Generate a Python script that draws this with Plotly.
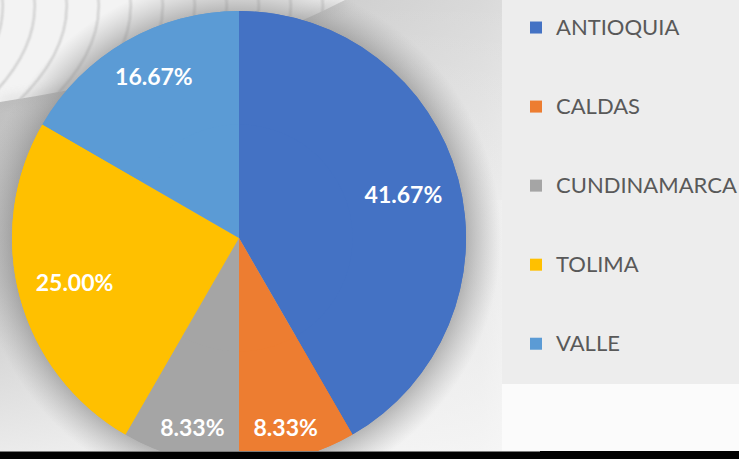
import base64
import plotly.graph_objects as go

# ---- data ----
categories = ["ANTIOQUIA", "CALDAS", "CUNDINAMARCA", "TOLIMA", "VALLE"]
counts = [5, 1, 1, 3, 2]
colors = ["#4472C4", "#ED7D31", "#A5A5A5", "#FFC000", "#5B9BD5"]

# figure a bit taller than the 459px window: the pie is cut by the bottom edge
W, H = 739, 470

# legend labels padded with blank lines to get the wide Excel-like spacing
legend_labels = ["&nbsp;<br><span style='font-size:22px'>%s</span><br>&nbsp;" % c for c in categories]
# label templates (blank lines nudge the small/edge labels outward like Excel's best-fit)
pct = "%{percent:.2%}"
label_templates = [pct, "&nbsp;<br>" + pct, "&nbsp;<br>" + pct, pct, pct + "<br>&nbsp;"]

# ---- decorative background (SVG) ----
arcs = []
for i in range(12):
    x0 = -30 + 32 * i
    arcs.append(
        f'<path d="M{x0},-5 Q{x0 + 8},60 {x0 - 75},125" stroke="#8c8c8c" stroke-width="1.4" '
        f'fill="none" opacity="0.55" filter="url(#bl)"/>'
    )
svg = f'''<svg xmlns="http://www.w3.org/2000/svg" width="{W}" height="{H}" viewBox="0 0 {W} {H}">
<defs>
<filter id="bl"><feGaussianBlur stdDeviation="0.8"/></filter>
<filter id="bl2"><feGaussianBlur stdDeviation="6"/></filter>
<linearGradient id="lg" x1="0" y1="0" x2="1" y2="0">
<stop offset="0" stop-color="#b9b9b9"/>
<stop offset="0.3" stop-color="#d9d9d9"/>
<stop offset="0.65" stop-color="#e6e6e6"/>
<stop offset="0.72" stop-color="#f6f6f6"/>
<stop offset="1" stop-color="#fbfbfb"/>
</linearGradient>
<linearGradient id="vg" x1="0" y1="0" x2="0" y2="1">
<stop offset="0" stop-color="#ffffff" stop-opacity="0"/>
<stop offset="0.6" stop-color="#f4f4f4" stop-opacity="0.3"/>
<stop offset="1" stop-color="#f8f8f8" stop-opacity="0.85"/>
</linearGradient>
<linearGradient id="tr" x1="0" y1="0" x2="1" y2="1">
<stop offset="0" stop-color="#c9c9c9"/>
<stop offset="0.5" stop-color="#d8d8d8"/>
<stop offset="1" stop-color="#e9e9e9"/>
</linearGradient>
<radialGradient id="sh" cx="239" cy="238" r="262" gradientUnits="userSpaceOnUse">
<stop offset="0.85" stop-color="#808080" stop-opacity="0.6"/>
<stop offset="1" stop-color="#a0a0a0" stop-opacity="0"/>
</radialGradient>
<clipPath id="tl"><path d="M0,0 H345 Q210,70 0,102 Z"/></clipPath>
</defs>
<rect width="{W}" height="{H}" fill="url(#lg)"/>
<rect x="300" y="0" width="210" height="200" fill="url(#tr)" opacity="0.8"/>
<rect width="{W}" height="{H}" fill="url(#vg)"/>
<g clip-path="url(#tl)">
<rect width="360" height="120" fill="#f3f3f3"/>
{''.join(arcs)}
</g>
<path d="M0,102 Q210,70 345,0" stroke="#9a9a9a" stroke-width="3" fill="none" filter="url(#bl2)" opacity="0.6"/>
<circle cx="239" cy="238" r="262" fill="url(#sh)"/>
<rect x="502" y="0" width="237" height="384" fill="#ededed"/>
<rect x="502" y="384" width="237" height="86" fill="#fbfbfb"/>
</svg>'''
svg_uri = "data:image/svg+xml;base64," + base64.b64encode(svg.encode()).decode()

dom = dict(x=[12 / W, 466 / W], y=[(H - 465) / H, (H - 11) / H])

fig = go.Figure()
# full pie (no text) underneath
fig.add_trace(go.Pie(
    labels=categories, values=counts,
    marker=dict(colors=colors, line=dict(width=0)),
    sort=False, direction="clockwise", rotation=0,
    textinfo="none", showlegend=False, hoverinfo="skip",
    domain=dom,
))
# same pie with a hole on top, to place the percentage labels in the outer ring
fig.add_trace(go.Pie(
    labels=legend_labels, values=counts,
    marker=dict(colors=colors, line=dict(width=0)),
    sort=False, direction="clockwise", rotation=0,
    hole=0.5,
    texttemplate=label_templates,
    textposition="inside",
    insidetextorientation="horizontal",
    textfont=dict(family="Lato", size=23, color="white", weight="bold"),
    hovertemplate=[c + ": %{value}<extra></extra>" for c in categories],
    domain=dom,
))

fig.update_layout(
    width=W,
    height=H,
    margin=dict(l=0, r=0, t=0, b=0, autoexpand=False),
    paper_bgcolor="#f4f4f4",
    plot_bgcolor="rgba(0,0,0,0)",
    showlegend=True,
    legend=dict(
        x=516 / W,
        xanchor="left",
        y=1 + 17 / H,
        yanchor="top",
        maxheight=600,
        font=dict(family="Lato", size=19.5, color="#595959"),
        bgcolor="rgba(0,0,0,0)",
        itemclick=False,
        itemdoubleclick=False,
    ),
    images=[
        dict(
            source=svg_uri,
            xref="paper", yref="paper",
            x=0, y=1, sizex=1, sizey=1,
            xanchor="left", yanchor="top",
            sizing="stretch", layer="below",
        )
    ],
    shapes=[
        dict(type="rect", xref="paper", yref="paper", x0=0, x1=1,
             y0=0, y1=(H - 451) / H, fillcolor="#000000", line=dict(width=0), layer="above"),
        dict(type="line", xref="paper", yref="paper", x0=0, x1=540 / W,
             y0=(H - 451.5) / H, y1=(H - 451.5) / H, line=dict(color="#7a7a7a", width=1), layer="above"),
    ],
)

post = (
    "document.body.style.margin='0';"
    "document.body.style.overflow='hidden';"
    "document.documentElement.style.overflow='hidden';"
)
fig.write_html("out.html", post_script=post, config={"displayModeBar": False})
